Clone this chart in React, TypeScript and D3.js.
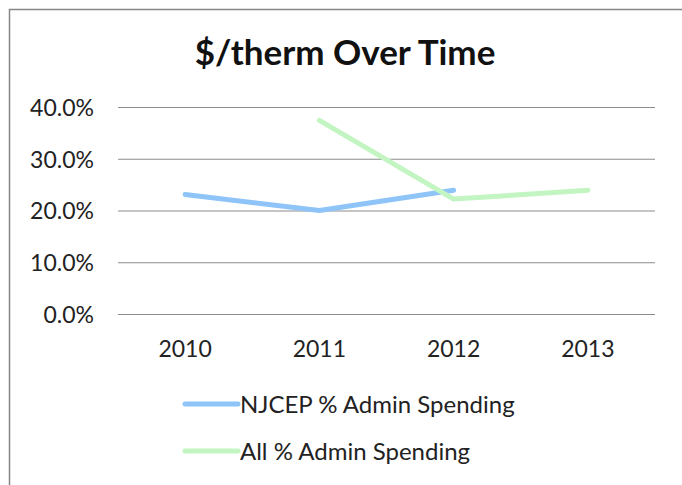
import * as d3 from "d3"
import { useEffect, useRef } from "react"

const years = ["2010", "2011", "2012", "2013"]
const njcep = [23.1, 20.0, 23.9, null]
const allSpend = [null, 37.4, 22.2, 23.9]
const yTicks = [0, 10, 20, 30, 40]
const seriesNames = ["NJCEP % Admin Spending", "All % Admin Spending"]
const seriesColors = ["#8ec4f8", "#c2f5c2"]

export default function App() {
  const ref = useRef<SVGSVGElement>(null)

  useEffect(() => {
    const svg = d3.select(ref.current)
    svg.selectAll("*").remove()

    const font = "Lato, 'Open Sans', sans-serif"

    // chart frame, cut off on the right and bottom like the screenshot
    svg.append("rect")
      .attr("x", 9.5).attr("y", 9.5)
      .attr("width", 720).attr("height", 520)
      .attr("fill", "white")
      .attr("stroke", "#868686").attr("stroke-width", 1.5)

    svg.append("text")
      .attr("x", 345).attr("y", 65)
      .attr("text-anchor", "middle")
      .style("font-family", font).style("font-weight", "bold").style("font-size", "35px")
      .attr("fill", "#111")
      .text("$/therm Over Time")

    const x = d3.scaleBand().domain(years).range([118, 655])
    const y = d3.scaleLinear().domain([0, 40]).range([314, 107])

    // gridlines + y labels
    svg.append("g")
      .attr("transform", "translate(118,0)")
      .call(d3.axisLeft(y).tickValues(yTicks).tickSize(-(655 - 118)).tickFormat(d => (+d).toFixed(1) + "%"))
      .call(g => g.select(".domain").remove())
      .call(g => g.selectAll(".tick line").attr("stroke", "#8c8c8c").attr("stroke-width", 1.2))
      .call(g => g.selectAll(".tick text")
        .attr("x", -24).attr("dy", "0.36em")
        .style("font-family", font).style("font-size", "23px").attr("fill", "#222"))

    svg.append("g")
      .attr("transform", "translate(0,314)")
      .call(d3.axisBottom(x).tickSize(0))
      .call(g => g.select(".domain").remove())
      .call(g => g.selectAll(".tick text")
        .attr("y", 43).attr("dy", null)
        .style("font-family", font).style("font-size", "23px").attr("fill", "#222"))

    const line = d3.line<number | null>()
      .defined(d => d != null)
      .x((d, i) => x(years[i])! + x.bandwidth() / 2)
      .y(d => y(d as number))

    ;[njcep, allSpend].forEach((s, i) => {
      svg.append("path")
        .datum(s)
        .attr("d", line)
        .attr("fill", "none")
        .attr("stroke", seriesColors[i])
        .attr("stroke-width", 5)
        .attr("stroke-linejoin", "round")
        .attr("stroke-linecap", "round")
    })

    // legend
    const leg = svg.append("g")
    seriesNames.forEach((name, i) => {
      const ly = 404 + i * 47
      leg.append("line")
        .attr("x1", 185).attr("x2", 238).attr("y1", ly).attr("y2", ly)
        .attr("stroke", seriesColors[i]).attr("stroke-width", 5)
        .attr("stroke-linecap", "round")
      leg.append("text")
        .attr("x", 240).attr("y", ly + 8.5)
        .style("font-family", font).style("font-size", "24px").attr("fill", "#222")
        .text(name)
    })
  })

  return (
    <svg ref={ref} width={682} height={485} style={{ position: "absolute", left: 0, top: 0 }} />
  )
}
